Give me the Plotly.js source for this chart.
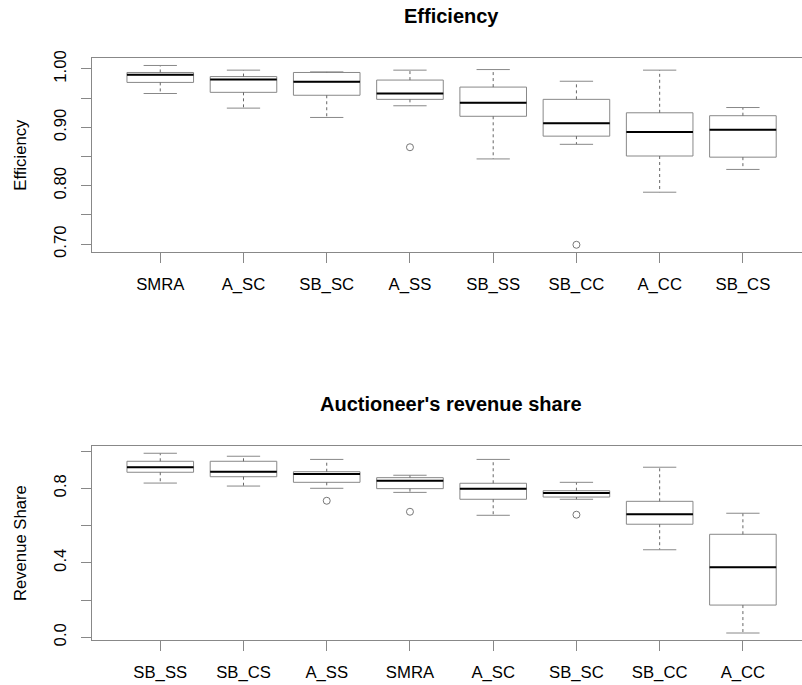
<!DOCTYPE html>
<html>
<head>
<meta charset="utf-8">
<script src="https://cdn.plot.ly/plotly-3.0.1.min.js"></script>
<style>html,body{margin:0;padding:0;background:#fff;}#chart{width:802px;height:685px;}</style>
</head>
<body>
<div id="chart"></div>
<script>
// ---- Panel 1: Efficiency ----
var effCats   = ["SMRA", "A_SC", "SB_SC", "A_SS", "SB_SS", "SB_CC", "A_CC", "SB_CS"];
var effLower  = [0.958, 0.933, 0.917, 0.937, 0.846, 0.871, 0.789, 0.828];
var effQ1     = [0.977, 0.960, 0.955, 0.948, 0.919, 0.885, 0.851, 0.849];
var effMedian = [0.990, 0.982, 0.978, 0.958, 0.942, 0.907, 0.892, 0.896];
var effQ3     = [0.994, 0.987, 0.994, 0.981, 0.969, 0.948, 0.925, 0.920];
var effUpper  = [1.006, 0.998, 0.995, 0.998, 0.999, 0.979, 0.998, 0.934];
var effOutCat = ["A_SS", "SB_CC"];
var effOutVal = [0.866, 0.699];
var effTickVals = [0.70, 0.75, 0.80, 0.85, 0.90, 0.95, 1.00];
var effTickText = ["0.70", "", "0.80", "", "0.90", "", "1.00"];

// ---- Panel 2: Auctioneer's revenue share ----
var revCats   = ["SB_SS", "SB_CS", "A_SS", "SMRA", "A_SC", "SB_SC", "SB_CC", "A_CC"];
var revLower  = [0.828, 0.812, 0.800, 0.778, 0.655, 0.741, 0.470, 0.023];
var revQ1     = [0.886, 0.862, 0.832, 0.798, 0.741, 0.753, 0.607, 0.173];
var revMedian = [0.913, 0.889, 0.877, 0.841, 0.798, 0.775, 0.660, 0.376];
var revQ3     = [0.945, 0.945, 0.889, 0.857, 0.827, 0.787, 0.730, 0.553];
var revUpper  = [0.988, 0.972, 0.955, 0.870, 0.955, 0.832, 0.913, 0.666];
var revOutCat = ["A_SS", "SMRA", "SB_SC"];
var revOutVal = [0.733, 0.674, 0.658];
var revTickVals = [0.0, 0.2, 0.4, 0.6, 0.8, 1.0];
var revTickText = ["0.0", "", "0.4", "", "0.8", ""];

var BOXW = 0.8, CAPW = 0.4;
var GRAY = "#888888";

function panelTraces(cats, lower, q1, med, q3, upper, outCat, outVal, xa, ya) {
  var pos = cats.map(function (c, i) { return i + 1; });
  var traces = [];
  // box bodies (fences at the quartiles; whiskers drawn separately, dashed)
  traces.push({
    type: "box", x: pos, q1: q1, median: med, q3: q3,
    lowerfence: q1, upperfence: q3, width: BOXW, whiskerwidth: 0,
    line: { color: GRAY, width: 1 }, fillcolor: "rgba(255,255,255,0)",
    boxpoints: false, hoverinfo: "skip", showlegend: false, xaxis: xa, yaxis: ya
  });
  var wx = [], wy = [], cx = [], cy = [], mx = [], my = [];
  for (var i = 0; i < pos.length; i++) {
    var p = pos[i];
    wx.push(p, p, null, p, p, null);
    wy.push(q3[i], upper[i], null, q1[i], lower[i], null);
    cx.push(p - CAPW / 2, p + CAPW / 2, null, p - CAPW / 2, p + CAPW / 2, null);
    cy.push(upper[i], upper[i], null, lower[i], lower[i], null);
    mx.push(p - BOXW / 2, p + BOXW / 2, null);
    my.push(med[i], med[i], null);
  }
  traces.push({ type: "scatter", mode: "lines", x: wx, y: wy, line: { color: "#666666", width: 1, dash: "3px,3px" },
    hoverinfo: "skip", showlegend: false, xaxis: xa, yaxis: ya });
  traces.push({ type: "scatter", mode: "lines", x: cx, y: cy, line: { color: GRAY, width: 1 },
    hoverinfo: "skip", showlegend: false, xaxis: xa, yaxis: ya });
  traces.push({ type: "scatter", mode: "lines", x: mx, y: my, line: { color: "#000000", width: 2 },
    hoverinfo: "skip", showlegend: false, xaxis: xa, yaxis: ya });
  traces.push({ type: "scatter", mode: "markers",
    x: outCat.map(function (c) { return cats.indexOf(c) + 1; }), y: outVal,
    marker: { symbol: "circle-open", size: 7, color: "#777777", line: { width: 1 } },
    hoverinfo: "skip", showlegend: false, xaxis: xa, yaxis: ya });
  return traces;
}

var data = panelTraces(effCats, effLower, effQ1, effMedian, effQ3, effUpper, effOutCat, effOutVal, "x", "y")
  .concat(panelTraces(revCats, revLower, revQ1, revMedian, revQ3, revUpper, revOutCat, revOutVal, "x2", "y2"));

var FONT = "Liberation Sans, Arial, sans-serif";
var tickFont = { family: FONT, size: 16.7, color: "#000000" };

function xAxis(cats, anchor) {
  return {
    anchor: anchor, domain: [0, 1], range: [0.18, 8.71],
    tickmode: "array", tickvals: cats.map(function (c, i) { return i + 1; }), ticktext: cats,
    ticks: "outside", ticklen: 10, tickcolor: GRAY, tickwidth: 1,
    showline: true, linecolor: GRAY, linewidth: 1, mirror: true,
    showgrid: false, zeroline: false, tickfont: tickFont, ticklabelstandoff: 7,
    automargin: false, fixedrange: true
  };
}
function yAxis(anchor, domain, range, tv, tt, title) {
  return {
    anchor: anchor, domain: domain, range: range,
    tickmode: "array", tickvals: tv, ticktext: tt, tickangle: -90,
    ticks: "outside", ticklen: 10, tickcolor: GRAY, tickwidth: 1,
    showline: true, linecolor: GRAY, linewidth: 1,
    showgrid: false, zeroline: false, tickfont: tickFont, ticklabelstandoff: 8,
    title: { text: title, font: { family: FONT, size: 16.7, color: "#000000" }, standoff: 20 },
    automargin: false, fixedrange: true
  };
}

var layout = {
  width: 802, height: 685,
  margin: { l: 92, r: 0, t: 0, b: 0, pad: 0 },
  paper_bgcolor: "#ffffff", plot_bgcolor: "#ffffff",
  showlegend: false,
  xaxis: xAxis(effCats, "y"),
  yaxis: yAxis("x", [0.6321, 0.9149], [0.6866, 1.0183], effTickVals, effTickText, "Efficiency"),
  xaxis2: xAxis(revCats, "y2"),
  yaxis2: yAxis("x2", [0.0653, 0.3489], [-0.016, 1.027], revTickVals, revTickText, "Revenue Share"),
  annotations: [
    { text: "<b>Efficiency</b>", xref: "paper", yref: "paper", x: 0.506, y: 0.977,
      xanchor: "center", yanchor: "middle", showarrow: false,
      font: { family: FONT, size: 20, color: "#000000" } },
    { text: "<b>Auctioneer's revenue share</b>", xref: "paper", yref: "paper", x: 0.506, y: 0.4095,
      xanchor: "center", yanchor: "middle", showarrow: false,
      font: { family: FONT, size: 20, color: "#000000" } }
  ]
};

Plotly.newPlot("chart", data, layout, { staticPlot: true, displayModeBar: false });
</script>
</body>
</html>
